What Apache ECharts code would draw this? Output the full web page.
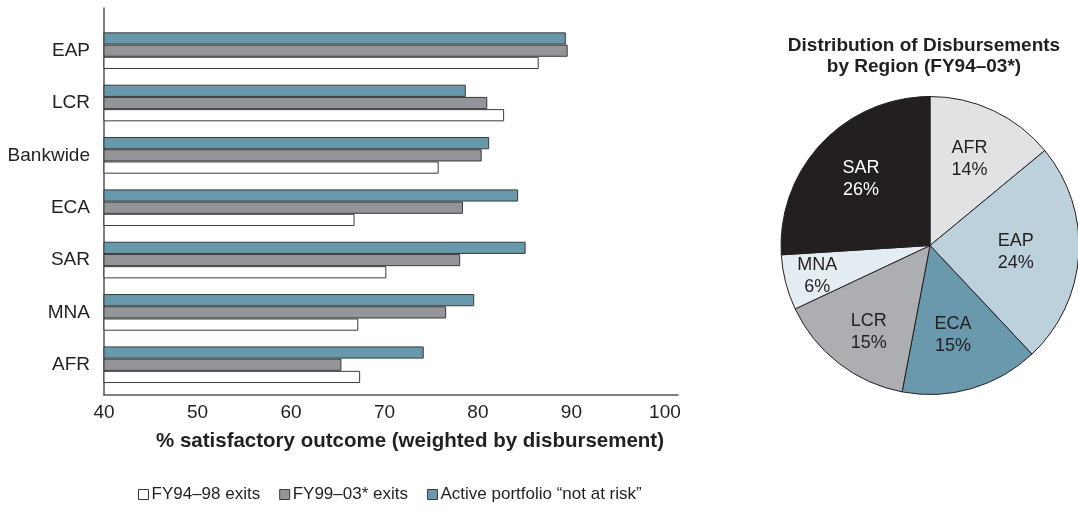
<!DOCTYPE html>
<html>
<head>
<meta charset="utf-8">
<script src="https://cdn.jsdelivr.net/npm/echarts@6/dist/echarts.min.js"></script>
<style>
  html, body { margin: 0; padding: 0; background: #ffffff; }
  #chart { width: 1078px; height: 515px; }
</style>
</head>
<body>
<div id="chart"></div>
<script>
// Regions, listed top to bottom as they appear on the bar chart
const regions = ['EAP', 'LCR', 'Bankwide', 'ECA', 'SAR', 'MNA', 'AFR'];

// % satisfactory outcome (weighted by disbursement)
const exits9498 = [86.5, 82.8, 75.8, 66.8, 70.2, 67.2, 67.4];
const exits9903 = [89.6, 81.0, 80.4, 78.4, 78.1, 76.6, 65.4];
const activeNotAtRisk = [89.4, 78.7, 81.2, 84.3, 85.1, 79.6, 74.2];

const seriesNames = ['FY94\u201398 exits', 'FY99\u201303* exits', 'Active portfolio \u201cnot at risk\u201d'];
const xTickLabels = [40, 50, 60, 70, 80, 90, 100];

// Distribution of disbursements by region (FY94–03*), percent
const pieRegions = ['AFR', 'EAP', 'ECA', 'LCR', 'MNA', 'SAR'];
const pieShares = [14, 24, 15, 15, 6, 26];

const INK = '#231f20';
const FONT = '"Liberation Sans", Arial, sans-serif';
const sliceColors = { AFR: '#e1e2e4', EAP: '#bcd1dc', ECA: '#6a99ad', LCR: '#adaeb1', MNA: '#e3edf2', SAR: '#231f20' };
const sliceText = { SAR: '#ffffff' };
// small nudges for slice labels (pixels)
const sliceLabelNudge = { AFR: [-3, 4], EAP: [-14, 0], ECA: [-5, -6], LCR: [0, 8], MNA: [-16, 6], SAR: [4, 2] };

const X_MIN = 40, X_MAX = 101.4;

const chart = echarts.init(document.getElementById('chart'), null, { renderer: 'canvas' });

const barStyle = (fill) => ({ color: fill, borderColor: '#3a3a3a', borderWidth: 1 });

chart.setOption({
  animation: false,
  textStyle: { fontFamily: FONT, color: INK },
  title: {
    text: 'Distribution of Disbursements\nby Region (FY94\u201303*)',
    left: 919,
    top: 30,
    textAlign: 'center',
    textStyle: { fontFamily: FONT, fontWeight: 'bold', fontSize: 19, lineHeight: 21, color: INK }
  },
  legend: {
    data: seriesNames,
    left: 133,
    top: 481,
    icon: 'rect',
    itemWidth: 10,
    itemHeight: 10,
    itemGap: 19,
    itemStyle: { borderColor: '#3a3a3a', borderWidth: 1 },
    textStyle: { fontFamily: FONT, fontSize: 17, color: INK, padding: [0, 0, 0, -2] }
  },
  grid: [
    // frame with the value axis
    { left: 104, top: 8, width: 574, height: 387, containLabel: false },
    // bar area
    { left: 104, top: 24.5, width: 574, height: 366.4, containLabel: false }
  ],
  xAxis: [
    {
      gridIndex: 0, type: 'value', min: X_MIN, max: X_MAX, interval: 10,
      axisLine: { show: true, onZero: false, lineStyle: { color: '#555', width: 1.5 } },
      axisTick: { show: false },
      splitLine: { show: false },
      axisLabel: {
        margin: 8, fontSize: 19, color: INK, fontFamily: FONT, showMaxLabel: false,
        formatter: (v) => (xTickLabels.indexOf(v) >= 0 ? String(v) : '')
      },
      name: '% satisfactory outcome (weighted by disbursement)',
      nameLocation: 'middle',
      nameGap: 36,
      nameTextStyle: { fontFamily: FONT, fontWeight: 'bold', fontSize: 20.5, color: INK, padding: [0, 0, 0, 38] }
    },
    { gridIndex: 1, type: 'value', min: X_MIN, max: X_MAX, show: false }
  ],
  yAxis: [
    {
      gridIndex: 0, type: 'value', min: 0, max: 1,
      axisLine: { show: true, onZero: false, lineStyle: { color: '#555', width: 1.5 } },
      axisTick: { show: false }, axisLabel: { show: false }, splitLine: { show: false }
    },
    {
      gridIndex: 1, type: 'category', data: regions, inverse: true,
      axisLine: { show: false }, axisTick: { show: false }, splitLine: { show: false },
      axisLabel: { margin: 14, fontSize: 19, color: INK, fontFamily: FONT }
    }
  ],
  series: [
    {
      name: seriesNames[2], type: 'bar', xAxisIndex: 1, yAxisIndex: 1,
      data: activeNotAtRisk, itemStyle: barStyle('#6898ab'),
      barCategoryGap: '30%', barGap: '0%'
    },
    {
      name: seriesNames[1], type: 'bar', xAxisIndex: 1, yAxisIndex: 1,
      data: exits9903, itemStyle: barStyle('#939598'),
      barCategoryGap: '30%', barGap: '0%'
    },
    {
      name: seriesNames[0], type: 'bar', xAxisIndex: 1, yAxisIndex: 1,
      data: exits9498, itemStyle: barStyle('#ffffff'),
      barCategoryGap: '30%', barGap: '0%'
    },
    {
      // slices
      type: 'pie', center: [930, 245.5], radius: 149, startAngle: 90, clockwise: true,
      silent: true, label: { show: false }, labelLine: { show: false },
      data: pieRegions.map((r, i) => ({ name: r, value: pieShares[i], itemStyle: { color: sliceColors[r] } })),
      itemStyle: { borderColor: INK, borderWidth: 1 }
    },
    {
      // slice labels, placed on a wider transparent ring so they sit nearer the rim
      type: 'pie', center: [930, 245.5], radius: 194, startAngle: 90, clockwise: true,
      silent: true, labelLine: { show: false },
      itemStyle: { color: 'rgba(0,0,0,0)', borderWidth: 0 },
      data: pieRegions.map((r, i) => ({
        name: r, value: pieShares[i],
        label: { color: sliceText[r] || INK, offset: sliceLabelNudge[r] }
      })),
      label: {
        show: true, position: 'inside', fontFamily: FONT, fontSize: 18, lineHeight: 22,
        formatter: (p) => p.name + '\n' + p.value + '%'
      }
    }
  ]
});
</script>
</body>
</html>
